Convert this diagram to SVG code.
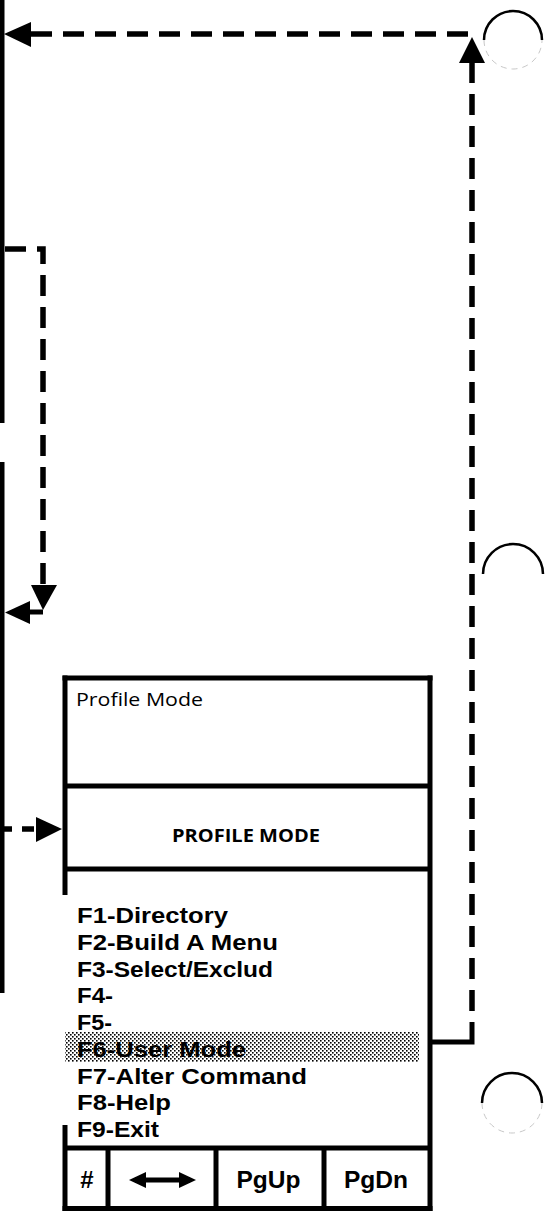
<svg xmlns="http://www.w3.org/2000/svg" width="545" height="1211" viewBox="0 0 545 1211">
  <defs>
    <pattern id="stipple" x="0" y="0" width="4" height="4" patternUnits="userSpaceOnUse">
      <rect x="0" y="0" width="4" height="4" fill="#ffffff"/>
      <rect x="0" y="0" width="1.6" height="1.6" fill="#000000"/>
      <rect x="2" y="2" width="1.6" height="1.6" fill="#000000"/>
    </pattern>
    <style>
      .solid { stroke:#000; stroke-width:5; fill:none; }
      .dash { stroke:#000; stroke-width:5.5; fill:none; stroke-dasharray:21 11; }
      .head { fill:#000; stroke:none; }
      .border { stroke:#000; stroke-width:5; fill:none; }
      .menu { font-family:"Liberation Sans","Open Sans",sans-serif; font-size:22px; font-weight:700; fill:#000; }
      .title { font-family:"Open Sans","Liberation Sans",sans-serif; font-size:19px; fill:#000; }
      .heading { font-family:"Open Sans","Liberation Sans",sans-serif; font-size:17.5px; font-weight:700; fill:#000; }
      .key { font-family:"Liberation Sans","Open Sans",sans-serif; font-size:24px; font-weight:700; fill:#000; }
      .hole { fill:none; stroke:#000; stroke-width:2.5; }
      .holefaint { fill:none; stroke:#c8c8c8; stroke-width:1; stroke-dasharray:6 5; }
    </style>
  </defs>
  <rect x="0" y="0" width="545" height="1211" fill="#ffffff"/>

  <g id="page-edges">
    <line class="solid" x1="2" y1="0" x2="2" y2="423"/>
    <line class="solid" x1="2" y1="462" x2="2" y2="993"/>
  </g>

  <g id="profile-screen">
    <g id="title-panel">
      <line class="border" x1="62.5" y1="678" x2="432.5" y2="678"/>
      <text class="title" x="76" y="706" textLength="127" lengthAdjust="spacingAndGlyphs">Profile Mode</text>
    </g>
    <g id="heading-panel">
      <line class="border" x1="65" y1="786" x2="430" y2="786"/>
      <text class="heading" x="246" y="842" text-anchor="middle" textLength="148" lengthAdjust="spacingAndGlyphs">PROFILE MODE</text>
    </g>
    <g id="menu-panel">
      <line class="border" x1="65" y1="869" x2="430" y2="869"/>
      <rect x="65" y="1032" width="354" height="30" fill="url(#stipple)"/>
      <text class="menu" x="77" y="923" textLength="151" lengthAdjust="spacingAndGlyphs">F1-Directory</text>
      <text class="menu" x="77" y="950" textLength="201" lengthAdjust="spacingAndGlyphs">F2-Build A Menu</text>
      <text class="menu" x="77" y="976.5" textLength="196" lengthAdjust="spacingAndGlyphs">F3-Select/Exclud</text>
      <text class="menu" x="77" y="1003" textLength="36" lengthAdjust="spacingAndGlyphs">F4-</text>
      <text class="menu" x="77" y="1030" textLength="35" lengthAdjust="spacingAndGlyphs">F5-</text>
      <text class="menu" x="77" y="1057" textLength="169" lengthAdjust="spacingAndGlyphs">F6-User Mode</text>
      <text class="menu" x="77" y="1083.5" textLength="230" lengthAdjust="spacingAndGlyphs">F7-Alter Command</text>
      <text class="menu" x="77" y="1110" textLength="94" lengthAdjust="spacingAndGlyphs">F8-Help</text>
      <text class="menu" x="77" y="1137" textLength="82" lengthAdjust="spacingAndGlyphs">F9-Exit</text>
    </g>
    <g id="key-row">
      <line class="border" x1="65" y1="1148" x2="430" y2="1148"/>
      <line class="border" x1="62.5" y1="1208.5" x2="432.5" y2="1208.5"/>
      <line class="border" x1="108" y1="1148" x2="108" y2="1211"/>
      <line class="border" x1="216" y1="1148" x2="216" y2="1211"/>
      <line class="border" x1="324" y1="1148" x2="324" y2="1211"/>
      <text class="key" x="87" y="1188" text-anchor="middle">#</text>
      <path class="head" d="M129,1180 L146,1172 L146,1177.5 L179,1177.5 L179,1172 L196,1180 L179,1188 L179,1182.5 L146,1182.5 L146,1188 Z"/>
      <text class="key" x="268.5" y="1188" text-anchor="middle" textLength="64" lengthAdjust="spacingAndGlyphs">PgUp</text>
      <text class="key" x="376" y="1188" text-anchor="middle" textLength="64" lengthAdjust="spacingAndGlyphs">PgDn</text>
    </g>
    <g id="frame">
      <line class="border" x1="65" y1="675.5" x2="65" y2="895"/>
      <line class="border" x1="65" y1="1125" x2="65" y2="1211"/>
      <line class="border" x1="430" y1="675.5" x2="430" y2="1211"/>
    </g>
  </g>

  <g id="connectors">
    <polyline class="solid" points="430,1042 472,1042 472,1022"/>
    <line class="dash" x1="472" y1="1011" x2="472" y2="63"/>
    <polygon class="head" points="459,63 485,63 472,37"/>
    <line class="dash" x1="31" y1="34" x2="472" y2="34"/>
    <polygon class="head" points="31,22 31,47 4,34"/>
    <path class="dash" d="M4,249 H43 V585" stroke-dashoffset="31"/>
    <polygon class="head" points="31,585 57,585 43,610"/>
    <line class="solid" x1="43" y1="612" x2="29" y2="612"/>
    <polygon class="head" points="30,601 30,624 5,612.5"/>
    <line class="dash" x1="0" y1="829" x2="37" y2="829" style="stroke-dasharray:12 10"/>
    <polygon class="head" points="36,817 36,842 62,829"/>
  </g>

  <g id="punch-holes">
    <path class="hole" d="M484,40 A29,29 0 0 1 542,40"/>
    <path class="holefaint" d="M484,40 A29,29 0 0 0 542,40"/>
    <path class="hole" d="M483,574 A30,30 0 0 1 543,574"/>
    <path class="hole" d="M482,1103 A30,30 0 0 1 542,1103"/>
    <path class="holefaint" d="M482,1103 A30,30 0 0 0 542,1103"/>
  </g>
</svg>
